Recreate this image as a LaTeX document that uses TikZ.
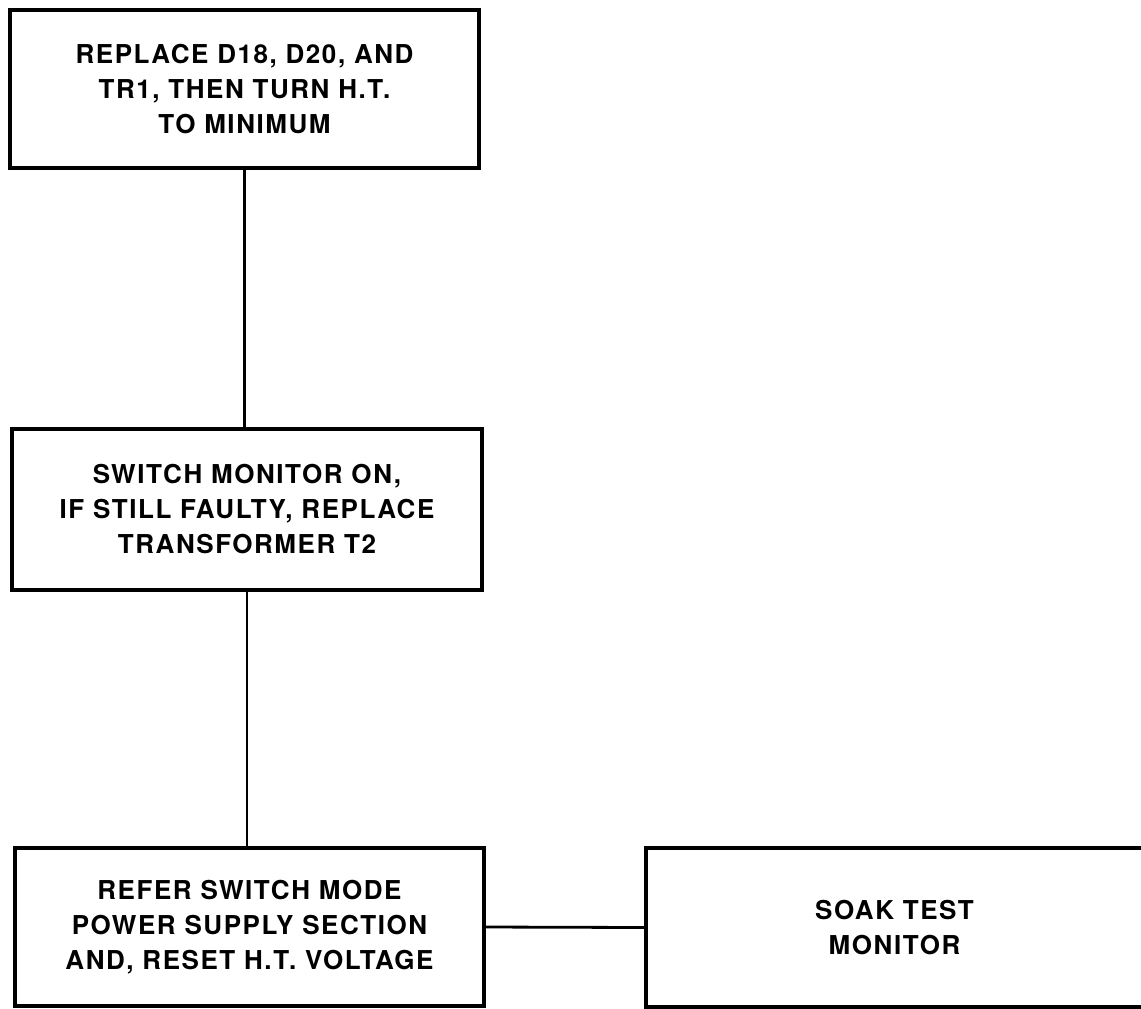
\documentclass[tikz,border=0pt]{standalone}
\usepackage{fontspec}
\setmainfont{TeX Gyre Heros}[LetterSpace=6]
\begin{document}
\begin{tikzpicture}[x=0.5pt,y=-0.5pt,
  box/.style={draw, line width=1.6pt, align=center, inner sep=0pt,
    font=\fontsize{13}{17.5}\selectfont\bfseries},
  link/.style={line width=1.4pt}]
  \useasboundingbox (0,0) rectangle (1141,1008);
  % Steps
  \node[box, minimum width=234.5pt, minimum height=79pt] (replace) at (244.5,89)
    {REPLACE D18, D20, AND\\TR1, THEN TURN H.T.\\TO MINIMUM};
  \node[box, minimum width=235pt, minimum height=80.5pt] (switch) at (247,509.5)
    {SWITCH MONITOR ON,\\IF STILL FAULTY, REPLACE\\TRANSFORMER T2};
  \node[box, minimum width=234.5pt, minimum height=79pt] (refer) at (249.5,927)
    {REFER SWITCH MODE\\POWER SUPPLY SECTION\\AND, RESET H.T. VOLTAGE};
  \node[box, minimum width=248.5pt, minimum height=79.5pt] (soak) at (894.5,927.5)
    {SOAK TEST\\MONITOR};
  % Connectors
  \draw[link] (replace.south) -- (replace.south |- switch.north);
  \draw[link] (switch.south) -- (switch.south |- refer.north);
  \draw[link] (refer.east) -- (soak.west);
\end{tikzpicture}
\end{document}
